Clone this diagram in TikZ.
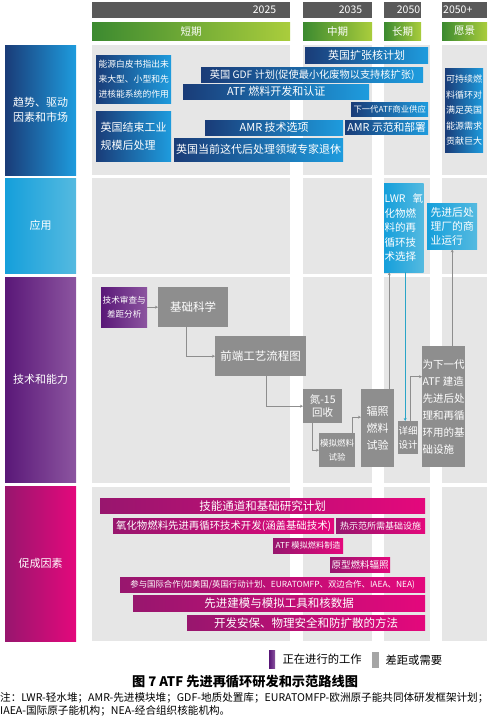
\documentclass[tikz,border=0pt]{standalone}
\usepackage{fontspec}
\setmainfont{Noto Sans CJK SC}
\usetikzlibrary{arrows.meta, positioning, calc}
\definecolor{YearGray}{HTML}{595959}
\definecolor{PanelGray}{HTML}{E6E6E6}
\definecolor{GapGray}{HTML}{8E8E8E}
\definecolor{PhaseDark}{HTML}{3C8A30}
\definecolor{PhaseLight}{HTML}{AACD3C}
\definecolor{TrendDark}{HTML}{1A3C78}
\definecolor{TrendLight}{HTML}{1E9CDE}
\definecolor{AppDark}{HTML}{159FDB}
\definecolor{AppLight}{HTML}{55BAE0}
\definecolor{TechDark}{HTML}{5A1878}
\definecolor{TechLight}{HTML}{8C55A0}
\definecolor{EnbDark}{HTML}{98166E}
\definecolor{EnbLight}{HTML}{E4087C}
\definecolor{LinkBlue}{HTML}{2AA5C8}
\newcommand{\fsz}[2]{\fontsize{#1}{#2}\selectfont}

\begin{document}
\begin{tikzpicture}[
    x=1pt, y=-1pt,
    flow/.style={-{Stealth[length=3pt, width=3pt]}, line width=0.6pt, GapGray},
    box/.style={anchor=north west, inner sep=1pt, text=white, align=center},
    yearbar/.style={box, fill=YearGray, align=right, font=\fsz{10.5}{12}},
    phasebar/.style={box, left color=PhaseDark, right color=PhaseLight, font=\fsz{10.5}{12}},
    rowlbl/.style={box, font=\fsz{11}{15}},
    trendbar/.style={box, left color=TrendDark, right color=TrendLight},
    appbox/.style={box, left color=AppDark, right color=AppLight, align=left},
    gapbox/.style={box, fill=GapGray},
    workbox/.style={box, left color=TechDark, right color=TechLight},
    enbbar/.style={box, left color=EnbDark, right color=EnbLight},
]
\useasboundingbox (0,0) rectangle (491,721);

% ---- panels ----
\foreach \ya/\yb in {45/175, 178/274, 277/483, 487/641} {
    \fill[PanelGray] (92,\ya) rectangle (290,\yb);
    \fill[PanelGray] (303,\ya) rectangle (372,\yb);
    \fill[PanelGray] (384,\ya) rectangle (430,\yb);
    \fill[PanelGray] (442,\ya) rectangle (487,\yb);
}

% ---- years and phases ----
\node[yearbar, text width=196pt, minimum height=16pt] (yr1) at (92,2) {2025\hspace*{13pt}};
\node[yearbar, text width=67pt, minimum height=16pt] (yr2) at (303,2) {2035\hspace*{9pt}};
\node[yearbar, text width=35pt, minimum height=16pt] (yr3) at (384,2) {2050};
\node[yearbar, text width=43pt, minimum height=16pt, align=left] (yr4) at (442,2) {2050+};
\node[phasebar, minimum width=198pt, minimum height=18pt] (ph1) at (92,22) {短期};
\node[phasebar, minimum width=69pt, minimum height=18pt] (ph2) at (303,22) {中期};
\node[phasebar, minimum width=37pt, minimum height=18pt] (ph3) at (384,22) {长期};
\node[phasebar, minimum width=45pt, minimum height=18pt] (ph4) at (442,22) {愿景};

% ---- row labels ----
\node[rowlbl, left color=TrendDark, right color=TrendLight, minimum width=71pt, minimum height=130pt]
    (trd) at (5,45) {趋势、驱动\\因素和市场};
\node[rowlbl, left color=AppDark, right color=AppLight, minimum width=71pt, minimum height=95pt]
    (app) at (5,178) {应用};
\node[rowlbl, left color=TechDark, right color=TechLight, minimum width=71pt, minimum height=205pt]
    (tec) at (5,277) {技术和能力};
\node[rowlbl, left color=EnbDark, right color=EnbLight, minimum width=71pt, minimum height=155pt]
    (enb) at (5,486) {促成因素};

% ---- trends, drivers and markets ----
\node[trendbar, align=left, font=\fsz{8.8}{15}, minimum width=75pt, minimum height=48pt] (wp) at (96,55)
    {能源白皮书指出未\\来大型、小型和先\\进核能系统的作用};
\node[trendbar, align=left, font=\fsz{11}{18}, minimum width=75pt, minimum height=50pt] (ind) at (96,111)
    {英国结束工业\\规模后处理};
\node[trendbar, font=\fsz{11}{12}, minimum width=123pt, minimum height=16pt] (exp) at (305,47) {英国扩张核计划};
\node[trendbar, font=\fsz{10.2}{12}, minimum width=222pt, minimum height=15pt] (gdf) at (201,67)
    {英国 GDF 计划(促使最小化废物以支持核扩张)};
\node[trendbar, font=\fsz{11}{12}, minimum width=186pt, minimum height=15pt] (atf) at (183,84) {ATF 燃料开发和认证};
\node[trendbar, font=\fsz{8.3}{9}, minimum width=77pt, minimum height=14pt] (nxt) at (351,102) {下一代ATF商业供应};
\node[trendbar, font=\fsz{11}{12}, minimum width=138pt, minimum height=15pt] (amrt) at (205,120) {AMR 技术选项};
\node[trendbar, font=\fsz{10.8}{12}, minimum width=83pt, minimum height=14pt] (amrd) at (345,120) {AMR 示范和部署};
\node[trendbar, font=\fsz{11}{12}, minimum width=169pt, minimum height=23pt] (ret) at (174,138)
    {英国当前这代后处理领域专家退休};
\node[trendbar, align=left, font=\fsz{9}{15.5}, minimum width=38pt, minimum height=84pt] (sus) at (445,68)
    {可持续燃\\料循环对\\满足英国\\能源需求\\贡献巨大};

% ---- applications ----
\node[appbox, font=\fsz{10.5}{14.5}, minimum width=39pt, minimum height=89pt, inner sep=0.5pt] (lwr) at (384,183)
    {LWR\hspace{7pt}氧\\化物燃\\料的再\\循环技\\术选择};
\node[appbox, font=\fsz{10.8}{14}, minimum width=50pt, minimum height=46pt] (com) at (427,203)
    {先进后处\\理厂的商\\业运行};

% ---- technology and capability ----
\node[workbox, font=\fsz{8.6}{14}, minimum width=46pt, minimum height=40pt] (rev) at (101,287) {技术审查与\\差距分析};
\node[gapbox, font=\fsz{11.5}{12}, minimum width=70pt, minimum height=40pt] (sci) at (158,287) {基础科学};
\node[gapbox, font=\fsz{11.5}{12}, minimum width=91pt, minimum height=40pt] (fe) at (215,336) {前端工艺流程图};
\node[gapbox, font=\fsz{10.5}{13}, minimum width=39pt, minimum height=34pt] (nrec) at (303,389) {氮-15\\回收};
\node[gapbox, font=\fsz{8.5}{14}, minimum width=36pt, minimum height=34pt, inner sep=0.5pt] (sim) at (319,433) {模拟燃料\\试验};
\node[gapbox, font=\fsz{11}{17}, minimum width=33pt, minimum height=78pt] (irr) at (361,389) {辐照\\燃料\\试验};
\node[gapbox, font=\fsz{9.5}{14}, minimum width=20pt, minimum height=33pt, inner sep=0pt] (det) at (398,421) {详细\\设计};
\node[gapbox, align=left, font=\fsz{10.5}{17}, minimum width=43pt, minimum height=121pt, inner sep=0.5pt] (inf) at (422,346)
    {为下一代\\ATF 建造\\先进后处\\理和再循\\环用的基\\础设施};

\draw[flow] (rev.east) -- (sci.west);
\draw[flow] ([xshift=-7pt]sci.south) |- (fe.west);
\draw[flow] ([xshift=5.5pt]fe.south) |- (nrec.west);
\draw[flow] ([xshift=-10.5pt]nrec.south) |- (sim.west);
\draw[flow] ([xshift=15pt]sim.north) |- ([yshift=11pt]irr.west);
\draw[flow] ([xshift=2pt]det.north) |- ([yshift=30pt]inf.west);
\draw[flow] ([xshift=11.5pt]irr.north) -- ([xshift=11.5pt]irr.north |- lwr.south);
\draw[flow, LinkBlue] ([xshift=-3pt]det.north |- lwr.south) -- ([xshift=-3pt]det.north);
\draw[flow] (inf.north -| com.south) -- (com.south);

% ---- enablers ----
\node[enbbar, font=\fsz{11.5}{12}, minimum width=325pt, minimum height=15pt] (skl) at (100,498) {技能通道和基础研究计划};
\node[enbbar, font=\fsz{10.4}{12}, minimum width=221pt, minimum height=15pt] (oxd) at (113,518)
    {氧化物燃料先进再循环技术开发(涵盖基础技术)};
\node[enbbar, font=\fsz{9}{10}, minimum width=89pt, minimum height=15pt] (thm) at (336,518) {热示范所需基础设施};
\node[enbbar, font=\fsz{8.2}{9}, minimum width=70pt, minimum height=15pt] (atfs) at (273,538) {ATF 模拟燃料制造};
\node[enbbar, font=\fsz{9.5}{10}, minimum width=60pt, minimum height=15pt] (prot) at (330,557) {原型燃料辐照};
\node[enbbar, font=\fsz{8.4}{9}, minimum width=305pt, minimum height=15pt] (intl) at (120,577)
    {参与国际合作(如美国/英国行动计划、EURATOMFP、双边合作、IAEA、NEA)};
\node[enbbar, font=\fsz{11.5}{12}, minimum width=292pt, minimum height=16pt] (mod) at (133,595) {先进建模与模拟工具和核数据};
\node[enbbar, font=\fsz{11.5}{12}, minimum width=238pt, minimum height=15pt] (sec) at (187,615) {开发安保、物理安全和防扩散的方法};

% ---- legend and caption ----
\node[box, left color=TechDark, right color=TechLight, minimum width=6pt, minimum height=18pt, inner sep=0pt] (legA) at (269,650) {};
\node[font=\fsz{11.3}{12}, right=7pt of legA, inner sep=0pt] (legAt) {正在进行的工作};
\node[box, fill=GapGray!80, minimum width=7pt, minimum height=16pt, inner sep=0pt] (legB) at (372,652) {};
\node[font=\fsz{11.3}{12}, right=6pt of legB, inner sep=0pt] (legBt) {差距或需要};
\node[font=\fsz{13.2}{15}\bfseries] (cap) at (245,682) {图 7 ATF 先进再循环研发和示范路线图};
\node[anchor=north west, align=left, inner sep=0pt, font=\fsz{10.6}{13}] (note) at (0,692)
    {注：LWR-轻水堆；AMR-先进模块堆；GDF-地质处置库；EURATOMFP-欧洲原子能共同体研发框架计划；\\
     IAEA-国际原子能机构；NEA-经合组织核能机构。};

\end{tikzpicture}
\end{document}
